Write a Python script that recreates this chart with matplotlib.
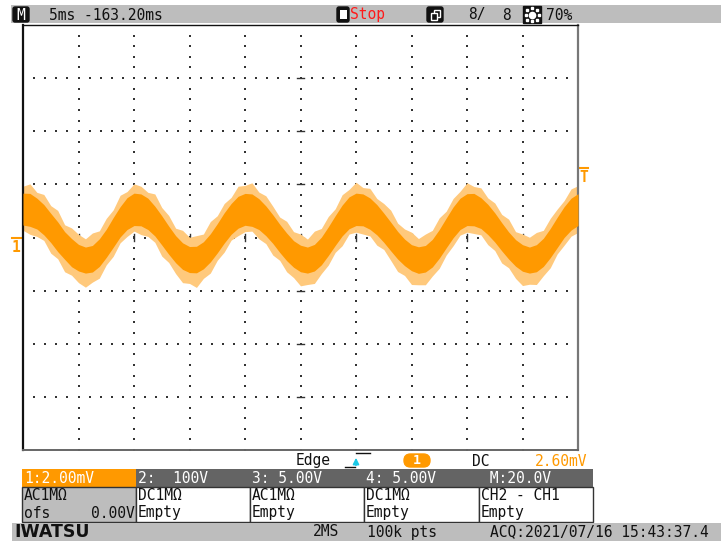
import numpy as np
import matplotlib
matplotlib.use("Agg")
import matplotlib.pyplot as plt
from matplotlib.patches import Rectangle, FancyBboxPatch, Polygon

trace_t = [0.0, 0.625, 1.25, 1.875, 2.5, 3.125, 3.75, 4.375, 5.0, 5.625,
           6.25, 6.875, 7.5, 8.125, 8.75, 9.375, 10.0, 10.625, 11.25, 11.875,
           12.5, 13.125, 13.75, 14.375, 15.0, 15.625, 16.25, 16.875, 17.5, 18.125,
           18.75, 19.375, 20.0, 20.625, 21.25, 21.875, 22.5, 23.125, 23.75, 24.375,
           25.0, 25.625, 26.25, 26.875, 27.5, 28.125, 28.75, 29.375, 30.0, 30.625,
           31.25, 31.875, 32.5, 33.125, 33.75, 34.375, 35.0, 35.625, 36.25, 36.875,
           37.5, 38.125, 38.75, 39.375, 40.0, 40.625, 41.25, 41.875, 42.5, 43.125,
           43.75, 44.375, 45.0, 45.625, 46.25, 46.875, 47.5, 48.125, 48.75, 49.375, 50.0]
trace_mid = [1.07, 1.04, 0.90, 0.67, 0.36, 0.03, -0.30, -0.57, -0.76, -0.85,
             -0.80, -0.57, -0.22, 0.19, 0.59, 0.90, 1.06, 1.04, 0.89, 0.62,
             0.27, -0.10, -0.44, -0.70, -0.83, -0.83, -0.67, -0.39, -0.03, 0.36,
             0.70, 0.95, 1.06, 1.03, 0.88, 0.63, 0.32, -0.03, -0.35, -0.62,
             -0.79, -0.85, -0.76, -0.51, -0.14, 0.26, 0.64, 0.93, 1.06, 1.04,
             0.90, 0.67, 0.37, 0.04, -0.29, -0.56, -0.76, -0.85, -0.80, -0.59,
             -0.24, 0.17, 0.57, 0.89, 1.05, 1.05, 0.92, 0.68, 0.38, 0.03,
             -0.30, -0.58, -0.77, -0.85, -0.78, -0.56, -0.21, 0.19, 0.58, 0.88, 1.05]
# meia largura do traço sólido (mV)
core_spread = [0.60, 0.62, 0.58, 0.57, 0.55, 0.56, 0.52, 0.53, 0.50, 0.49,
               0.50, 0.52, 0.53, 0.56, 0.57, 0.60, 0.61, 0.60, 0.59, 0.56,
               0.55, 0.53, 0.51, 0.50, 0.49, 0.50, 0.51, 0.53, 0.55, 0.57,
               0.58, 0.60, 0.60, 0.61, 0.58, 0.56, 0.54, 0.53, 0.52, 0.50,
               0.50, 0.49, 0.50, 0.52, 0.54, 0.56, 0.58, 0.60, 0.61, 0.60,
               0.59, 0.57, 0.55, 0.54, 0.52, 0.50, 0.49, 0.50, 0.50, 0.52,
               0.54, 0.56, 0.58, 0.59, 0.60, 0.61, 0.58, 0.57, 0.55, 0.53,
               0.51, 0.50, 0.50, 0.49, 0.51, 0.53, 0.55, 0.57, 0.58, 0.60, 0.60]
# ruído: excursão acima e abaixo do centro (mV)
noise_top = [0.86, 0.98, 0.80, 0.95, 0.84, 0.99, 0.78, 0.93, 0.88, 0.80,
             0.97, 0.82, 0.94, 0.85, 1.00, 0.83, 0.96, 0.89, 0.81, 1.02,
             0.86, 0.93, 0.79, 0.97, 0.84, 0.90, 0.80, 0.99, 0.85, 0.92,
             0.81, 0.98, 0.90, 1.03, 0.83, 0.94, 0.86, 0.80, 0.96, 0.84,
             0.92, 0.79, 1.00, 0.85, 0.93, 0.82, 0.97, 0.88, 1.02, 0.84,
             0.95, 0.80, 0.91, 0.99, 0.83, 0.88, 0.96, 0.81, 0.93, 0.86,
             0.98, 0.82, 0.90, 0.85, 1.01, 0.87, 0.95, 0.81, 0.92, 0.84,
             0.99, 0.80, 0.90, 0.86, 0.97, 0.83, 0.93, 0.88, 0.81, 0.95, 0.90]
noise_bot = [0.80, 0.92, 0.86, 0.78, 0.95, 0.83, 0.99, 0.85, 0.94, 1.02,
             0.88, 0.96, 0.81, 0.90, 0.79, 0.86, 0.82, 0.93, 0.85, 0.80,
             0.97, 0.84, 0.92, 1.00, 0.90, 1.05, 0.87, 0.95, 0.83, 0.91,
             0.80, 0.88, 0.84, 0.79, 0.93, 0.86, 0.98, 0.83, 0.94, 0.89,
             1.03, 0.92, 0.97, 0.85, 0.90, 0.82, 0.95, 0.80, 0.86, 0.91,
             0.84, 0.96, 0.82, 0.90, 0.99, 0.87, 1.01, 0.93, 0.98, 0.86,
             0.92, 0.83, 0.88, 0.80, 0.85, 0.90, 0.82, 0.95, 0.87, 0.99,
             0.84, 0.96, 1.04, 0.91, 0.99, 0.88, 0.93, 0.81, 0.87, 0.83, 0.86]

# Textos da tela
top_labels = ["5ms -163.20ms", "Stop", "8/", "8", "70%"]
ch_headers = ["1:2.00mV", "2:  100V", "3: 5.00V", "4: 5.00V", " M:20.0V"]
ch_coupling = ["AC1M\u03a9", "DC1M\u03a9", "AC1M\u03a9", "DC1M\u03a9", "CH2 - CH1"]
ch_second = ["ofs", "Empty", "Empty", "Empty", "Empty"]
trig_info = ["Edge", "1", "DC", "2.60mV"]
status = ["IWATSU", "2MS", "100k pts", "ACQ:2021/07/16 15:43:37.4"]

ORANGE = "#FF9900"
GREY = "#BDBDBD"
DARK = "#646464"
MONO = "DejaVu Sans Mono"
FS = 10.5

fig = plt.figure(figsize=(7.21, 5.45), dpi=100)
ui = fig.add_axes([0, 0, 1, 1])
ui.set_xlim(0, 721)
ui.set_ylim(545, 0)
ui.axis("off")

# barra superior
ui.add_patch(Rectangle((11, 5), 710, 18, color=GREY, lw=0))
ui.add_patch(FancyBboxPatch((13, 7), 16, 15, boxstyle="round,pad=0,rounding_size=2", color="#111"))
ui.text(21, 15, "M", color="white", fontsize=FS, family=MONO, ha="center", va="center")
ui.text(49, 15, top_labels[0], color="#111", fontsize=FS, family=MONO, va="center")
ui.add_patch(FancyBboxPatch((337, 7), 12, 15, boxstyle="round,pad=0,rounding_size=2", color="#111"))
ui.add_patch(Rectangle((339.5, 10), 7, 9, facecolor="white", edgecolor="none"))
ui.text(350, 15, top_labels[1], color="#FF1A1A", fontsize=FS, family=MONO, va="center")
ui.add_patch(FancyBboxPatch((427, 7), 16, 15, boxstyle="round,pad=0,rounding_size=2", color="#111"))
ui.add_patch(Rectangle((434, 9.5), 6, 7, facecolor="#111", edgecolor="white", lw=1))
ui.add_patch(Rectangle((431, 12.5), 6, 7, facecolor="#111", edgecolor="white", lw=1))
ui.text(468, 15, top_labels[2], color="#111", fontsize=FS, family=MONO, va="center")
ui.text(502, 15, top_labels[3], color="#111", fontsize=FS, family=MONO, va="center")
ui.add_patch(Rectangle((523, 6), 18, 17, color="#111"))
ui.plot([532], [14.5], marker="o", ms=4.5, color="white")
ui.plot([525.5, 538.5, 532, 532, 527, 537, 527, 537], [14.5, 14.5, 8, 21, 9.5, 9.5, 19.5, 19.5],
        ls="none", marker="s", ms=1.6, color="white")
ui.text(546, 15, top_labels[4], color="#111", fontsize=FS, family=MONO, va="center")

# área do gráfico
ax = fig.add_axes([23 / 721, 95 / 545, 555 / 721, 425 / 545])
ax.set_xlim(0, 50)
ax.set_ylim(-8, 8)
ax.set_xticks([])
ax.set_yticks([])
ax.spines["left"].set_color("#111")
ax.spines["left"].set_linewidth(1.6)
ax.spines["top"].set_color("#111")
ax.spines["top"].set_linewidth(1.0)
ax.spines["right"].set_color("#777")
ax.spines["right"].set_linewidth(1.6)
ax.spines["bottom"].set_color("#666")
ax.spines["bottom"].set_linewidth(1.4)

# pontos da grade
gx, gy = [], []
for yv in np.arange(-6, 6.1, 2):
    for xv in np.arange(0, 50.1, 1):
        gx.append(xv)
        gy.append(yv)
for xv in np.arange(5, 46, 5):
    for yv in np.arange(-8, 8.1, 0.4):
        gx.append(xv)
        gy.append(yv)
ax.scatter(gx, gy, s=1.3, marker="s", color="#333", lw=0, zorder=1)
for xv in np.arange(5, 46, 5):
    ax.plot([xv, xv], [-0.13, 0.13], color="#333", lw=1, zorder=1)
for yv in np.arange(-6, 6.1, 2):
    ax.plot([24.7, 25.3], [yv, yv], color="#333", lw=1, zorder=1)

t = np.array(trace_t)
mid = np.array(trace_mid)
ax.fill_between(t, mid - np.array(noise_bot), mid + np.array(noise_top),
                color="#FFC97C", lw=0, zorder=2)
ax.fill_between(t, mid - np.array(core_spread), mid + np.array(core_spread),
                color=ORANGE, lw=0, zorder=3)

# marcadores de canal e gatilho
ui.add_patch(Polygon([[26, 31], [30, 27.5], [30, 34.5]], color=ORANGE))
ui.plot([12, 21], [237.5, 237.5], color=ORANGE, lw=1.5)
ui.text(16, 248, "1", color=ORANGE, fontsize=FS, family=MONO, ha="center", va="center", fontweight="bold")
ui.plot([580, 588], [167.5, 167.5], color=ORANGE, lw=1.5)
ui.text(584, 177, "T", color=ORANGE, fontsize=FS, family=MONO, ha="center", va="center", fontweight="bold")

# linha de gatilho
ui.text(296, 461, trig_info[0], color="#111", fontsize=FS, family=MONO, va="center")
ui.plot([345, 355], [467, 467], color="#111", lw=1)
ui.plot([356, 370], [453, 453], color="#111", lw=1)
ui.annotate("", xy=(356, 455), xytext=(356, 468),
            arrowprops=dict(arrowstyle="-|>", color="#19C8E6", lw=1.2, mutation_scale=9))
ui.add_patch(FancyBboxPatch((404, 454), 26, 13, boxstyle="round,pad=0,rounding_size=6.5", color=ORANGE))
ui.text(417, 461, trig_info[1], color="white", fontsize=FS - 1, family=MONO, ha="center", va="center", fontweight="bold")
ui.text(472, 461, trig_info[2], color="#111", fontsize=FS, family=MONO, va="center")
ui.text(535, 461, trig_info[3], color=ORANGE, fontsize=FS, family=MONO, va="center")

# tabela dos canais
col_x = [22, 136, 250, 364, 479, 593]
for i in range(5):
    x0, x1 = col_x[i], col_x[i + 1]
    ui.add_patch(Rectangle((x0, 469), x1 - x0, 18, color=ORANGE if i == 0 else DARK, lw=0))
    ui.add_patch(Rectangle((x0, 487), x1 - x0, 35, facecolor=GREY if i == 0 else "white",
                           edgecolor="#333", lw=1))
    ui.text(x0 + 2, 478.5, ch_headers[i], color="white", fontsize=FS, family=MONO, va="center")
    ui.text(x0 + 2, 496, ch_coupling[i], color="#111", fontsize=FS, family=MONO, va="center")
    ui.text(x0 + 2, 513, ch_second[i], color="#111", fontsize=FS, family=MONO, va="center")
ui.text(135, 513, "0.00V", color="#111", fontsize=FS, family=MONO, ha="right", va="center")

# barra inferior
ui.add_patch(Rectangle((12, 523), 709, 18, color=GREY, lw=0))
ui.text(14, 532, status[0], color="#111", fontsize=12.5, family="DejaVu Sans",
        fontweight="heavy", va="center")
ui.text(313, 532, status[1], color="#111", fontsize=FS, family=MONO, va="center")
ui.text(367, 532, status[2], color="#111", fontsize=FS, family=MONO, va="center")
ui.text(490, 532, status[3], color="#111", fontsize=FS, family=MONO, va="center")

fig.savefig("out.png", dpi=100)
